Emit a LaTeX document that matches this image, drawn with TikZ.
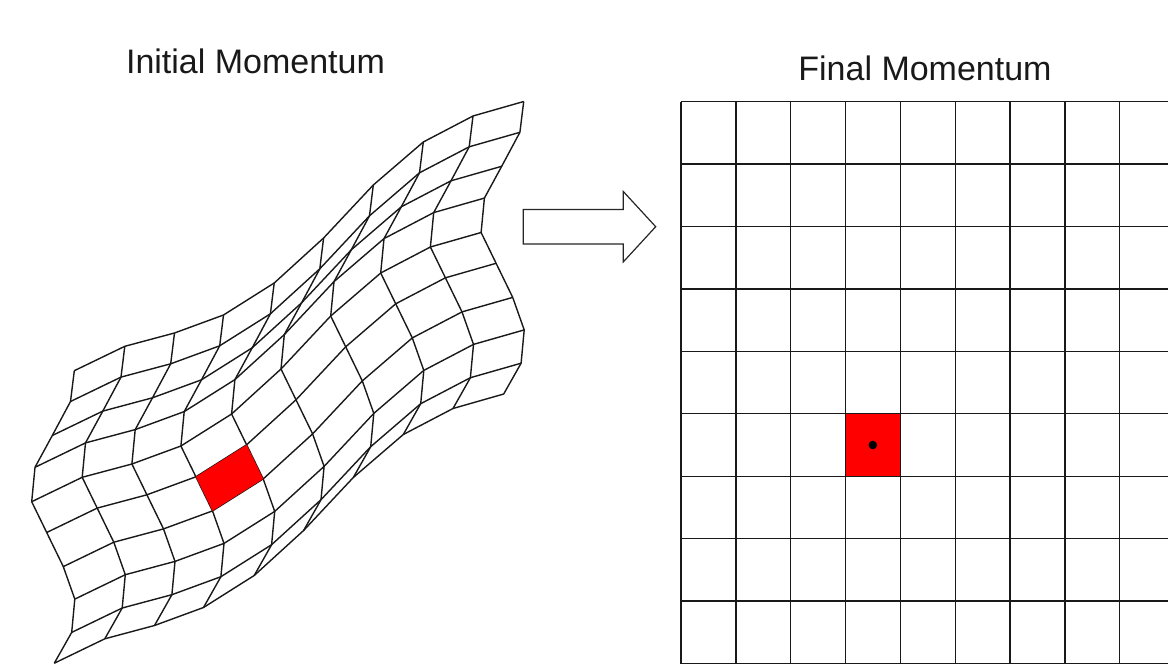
\documentclass[tikz,border=0pt]{standalone}
\usepackage{fontspec}
\setmainfont{Liberation Sans}
\usetikzlibrary{calc}
\tikzset{
  gridline/.style={draw=black!90, line width=1.4pt, line join=round},
  redcell/.style={fill=red},
  titletext/.style={font=\fontsize{34}{40}\selectfont, inner sep=0pt, anchor=base, text=black!90},
  blockarrow/.style={draw=black!85, line width=1.2pt, fill=white, line join=miter}
}
\begin{document}
\begin{tikzpicture}[x=1pt, y=-1pt]
\useasboundingbox (0,0) rectangle (1168,664);
\clip (0,0) rectangle (1168,664);
% ---------- titles ----------
\node[titletext] (t1) at (255.5,73.5) {Initial Momentum};
\node[titletext] (t2) at (925,80) {Final Momentum};
% ---------- warped grid: top edge T and left edge L ----------
\coordinate (T0) at (74.3,370.7);
\coordinate (T1) at (124.8,346.3);
\coordinate (T2) at (174.5,333);
\coordinate (T3) at (223.5,315);
\coordinate (T4) at (274.2,283);
\coordinate (T5) at (323.6,238);
\coordinate (T6) at (373.3,185);
\coordinate (T7) at (423.3,142);
\coordinate (T8) at (473,116);
\coordinate (T9) at (523.7,101.5);
\coordinate (L0) at (74.3,370.7);
\coordinate (L1) at (70.5,401.5);
\coordinate (L2) at (52.3,435.5);
\coordinate (L3) at (35,467.3);
\coordinate (L4) at (31.7,501.7);
\coordinate (L5) at (46.7,532.5);
\coordinate (L6) at (63.3,566.6);
\coordinate (L7) at (74.8,599.1);
\coordinate (L8) at (71.7,632.4);
\coordinate (L9) at (54.3,663.2);
\foreach \i in {0,...,9}{
  \foreach \j in {0,...,9}{
    \coordinate (P-\i-\j) at ($(T\i)+(L\j)-(T0)$);
  }
}
\foreach \j in {0,...,9}{
  \draw[gridline] (P-0-\j) \foreach \i in {1,...,9}{ -- (P-\i-\j) };
}
\foreach \i in {0,...,9}{
  \draw[gridline] (P-\i-0) \foreach \j in {1,...,9}{ -- (P-\i-\j) };
}
\fill[redcell] (P-3-5) -- (P-4-5) -- (P-4-6) -- (P-3-6) -- cycle;
% ---------- block arrow ----------
\draw[blockarrow] (523.3,209.4) -- (623.3,209.4) -- (623.3,191.5) -- (655.7,226.7)
  -- (623.3,261.9) -- (623.3,244) -- (523.3,244) -- cycle;
% ---------- regular grid ----------
\foreach \k in {0,...,9}{
  \draw[gridline] ({681+54.84*\k},101.5) -- ({681+54.84*\k},663.5);
  \draw[gridline] (681,{101.5+62.45*\k}) -- (1174.6,{101.5+62.45*\k});
}
\fill[redcell] (845.5,413.7) rectangle (900.4,476.3);
\fill[black] (872.8,445) circle (4.3);
\end{tikzpicture}
\end{document}
